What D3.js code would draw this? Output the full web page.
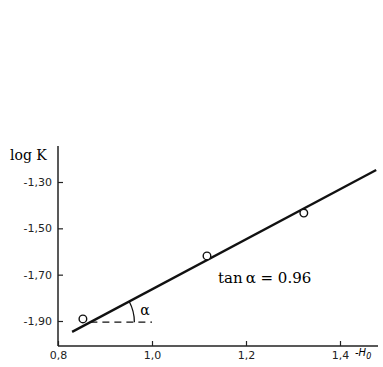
<!DOCTYPE html>
<html>
<head>
<meta charset="utf-8">
<script src="https://cdn.jsdelivr.net/npm/d3@7"></script>
<style>
  body { margin: 0; background: #fff; }
  svg { display: block; }
  .tick text { font-family: "DejaVu Sans", sans-serif; font-size: 11px; fill: #222; }
</style>
</head>
<body>
<svg width="383" height="367"></svg>
<script>
// measured points (-H0, log K)
var pointsX = [0.853, 1.117, 1.323]
var pointsY = [-1.891, -1.619, -1.434]
// fitted line ends
var lineX = [0.830, 1.477]
var lineY = [-1.947, -1.248]
var xTicks = [0.8, 1.0, 1.2, 1.4]
var xTickLabels = ["0,8", "1,0", "1,2", "1,4"]
var yTicks = [-1.3, -1.5, -1.7, -1.9]
var yTickLabels = ["-1,30", "-1,50", "-1,70", "-1,90"]
var slopeText = "tan\u2009\u03b1 = 0.96"

var svg = d3.select("svg")

var x = d3.scaleLinear().domain([0.8, 1.4]).range([58, 340])
var y = d3.scaleLinear().domain([-1.3, -1.9]).range([182, 321])

var xAxis = g => g
  .attr("transform", "translate(0,346)")
  .call(d3.axisBottom(x).tickValues(xTicks).tickSize(-5).tickPadding(5)
    .tickFormat((d, i) => xTickLabels[i]))
  .call(g => g.select(".domain").remove())

var yAxis = g => g
  .attr("transform", "translate(58,0)")
  .call(d3.axisLeft(y).tickValues(yTicks).tickSize(-5).tickPadding(6)
    .tickFormat((d, i) => yTickLabels[i]))
  .call(g => g.select(".domain").remove())

svg.append("g").call(xAxis)
svg.append("g").call(yAxis)
svg.selectAll(".tick line").attr("stroke", "#222").attr("stroke-width", 1.2)

// axis lines
svg.append("line").attr("x1", 58).attr("x2", 58).attr("y1", 146).attr("y2", 346)
  .attr("stroke", "#222").attr("stroke-width", 1.5)
svg.append("line").attr("x1", 58).attr("x2", 378).attr("y1", 346).attr("y2", 346)
  .attr("stroke", "#222").attr("stroke-width", 1.5)

svg.append("text").attr("x", 10).attr("y", 160)
  .attr("font-family", "DejaVu Serif, serif").attr("font-size", 14)
  .text("log K")

svg.append("text").attr("x", 355).attr("y", 356)
  .attr("font-family", "DejaVu Sans, sans-serif").attr("font-size", 10).attr("font-style", "italic")
  .text("-H")
  .append("tspan").attr("dy", 3).attr("font-size", 8).text("0")

// fitted line
svg.append("line")
  .attr("x1", x(lineX[0])).attr("y1", y(lineY[0]))
  .attr("x2", x(lineX[1])).attr("y2", y(lineY[1]))
  .attr("stroke", "#111").attr("stroke-width", 2.3)

// dashed horizontal + angle arc
var dashY = -1.905
var x0 = lineX[0] + (dashY - lineY[0]) / ((lineY[1] - lineY[0]) / (lineX[1] - lineX[0]))
svg.append("line")
  .attr("x1", x(x0)).attr("x2", x(1.0)).attr("y1", y(dashY)).attr("y2", y(dashY))
  .attr("stroke", "#111").attr("stroke-width", 1.3).attr("stroke-dasharray", "7,5")

var cx = x(x0), cy = y(dashY)
var ang = Math.atan2(y(lineY[0]) - y(lineY[1]), x(lineX[1]) - x(lineX[0]))
var r = 44
svg.append("path")
  .attr("d", d3.arc().innerRadius(r).outerRadius(r).startAngle(Math.PI / 2 - ang).endAngle(Math.PI / 2))
  .attr("transform", `translate(${cx},${cy})`)
  .attr("fill", "none").attr("stroke", "#111").attr("stroke-width", 1.3)

svg.append("text").attr("x", cx + r + 6).attr("y", cy - 7)
  .attr("font-family", "DejaVu Serif, serif").attr("font-size", 14)
  .text("\u03b1")

svg.append("text").attr("x", 218).attr("y", 283)
  .attr("font-family", "DejaVu Serif, serif").attr("font-size", 15)
  .text(slopeText)

// points
svg.selectAll("circle.pt")
  .data(pointsX)
  .join("circle")
  .attr("class", "pt")
  .attr("cx", d => x(d))
  .attr("cy", (d, i) => y(pointsY[i]))
  .attr("r", 3.8)
  .attr("fill", "#fff").attr("stroke", "#111").attr("stroke-width", 1.4)
</script>
</body>
</html>
